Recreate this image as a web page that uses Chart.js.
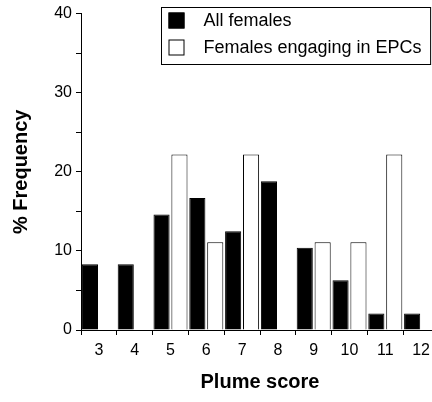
<!DOCTYPE html>
<html>
<head>
<meta charset="utf-8">
<script src="https://cdn.jsdelivr.net/npm/chart.js@4"></script>
<style>
  html, body { margin: 0; padding: 0; background: #fff; overflow: hidden; }
  #wrap { width: 440px; height: 402px; }
</style>
</head>
<body>
<div id="wrap"><canvas id="plumeChart"></canvas></div>
<script>
// Plume score categories and % frequency per group
const plumeScores = ['3', '4', '5', '6', '7', '8', '9', '10', '11', '12'];
const allFemales = [8.3, 8.3, 14.6, 16.7, 12.5, 18.8, 10.4, 6.3, 2.1, 2.1];
const epcFemales = [0, 0, 22.2, 11.1, 22.2, 0, 11.1, 11.1, 22.2, 0];
const yTicks = [0, 10, 20, 30, 40];

const fontFamily = "'Liberation Sans', Arial, Helvetica, sans-serif";

// legend drawn inside the plot, with a box around it
const boxLegend = {
    id: 'boxLegend',
    afterDraw(chart) {
        const ctx = chart.ctx;
        const area = chart.chartArea;
        const x0 = area.left + 80.5;
        const y0 = 7.5;
        const rowH = 27;
        const textX = x0 + 42;
        ctx.save();
        ctx.font = '18px ' + fontFamily;
        let maxW = 0;
        chart.data.datasets.forEach(ds => {
            maxW = Math.max(maxW, ctx.measureText(ds.label).width);
        });
        const w = textX + maxW + 9 - x0;
        const h = 57;
        ctx.strokeStyle = '#000';
        ctx.lineWidth = 1;
        ctx.strokeRect(x0, y0, w, h);
        chart.data.datasets.forEach((ds, i) => {
            const cy = y0 + 13 + i * rowH;
            ctx.fillStyle = ds.backgroundColor;
            ctx.fillRect(x0 + 7, cy - 8, 16, 16);
            ctx.strokeStyle = '#000';
            ctx.strokeRect(x0 + 7.5, cy - 7.5, 15, 15);
            ctx.fillStyle = '#000';
            ctx.textBaseline = 'middle';
            ctx.textAlign = 'left';
            ctx.fillText(ds.label, textX, cy + 1);
        });
        ctx.restore();
    }
};

const ctx = document.getElementById('plumeChart').getContext('2d');

new Chart(ctx, {
    type: 'bar',
    data: {
        labels: plumeScores,
        datasets: [
            {
                label: 'All females',
                data: allFemales,
                backgroundColor: '#000',
                borderColor: '#000',
                borderWidth: 1
            },
            {
                label: 'Females engaging in EPCs',
                data: epcFemales,
                backgroundColor: '#fff',
                borderColor: '#000',
                borderWidth: 1
            }
        ]
    },
    options: {
        responsive: true,
        maintainAspectRatio: false,
        animation: false,
        barPercentage: 0.9,
        categoryPercentage: 1,
        layout: { padding: { top: 13, right: 1, left: 0, bottom: 0 } },
        plugins: {
            legend: { display: false },
            tooltip: { enabled: false }
        },
        scales: {
            x: {
                grid: {
                    offset: true,
                    drawOnChartArea: false,
                    tickLength: 5,
                    color: '#000'
                },
                border: { color: '#000', width: 1 },
                ticks: {
                    color: '#000',
                    padding: 6,
                    maxRotation: 0,
                    font: { family: fontFamily, size: 16 }
                },
                title: {
                    display: true,
                    text: 'Plume score',
                    color: '#000',
                    padding: { top: 0, bottom: 8 },
                    font: { family: fontFamily, size: 20, weight: 'bold', lineHeight: 1.2 }
                },
                afterFit(scale) { scale.height = 72; }
            },
            y: {
                min: 0,
                max: 40,
                grid: {
                    drawOnChartArea: false,
                    tickLength: 5,
                    color: '#000'
                },
                border: { color: '#000', width: 1 },
                ticks: {
                    stepSize: 5,
                    color: '#000',
                    padding: 4,
                    font: { family: fontFamily, size: 16 },
                    callback: v => yTicks.includes(v) ? v : ''
                },
                title: {
                    display: true,
                    text: '% Frequency',
                    color: '#000',
                    padding: { top: 9, bottom: 0 },
                    font: { family: fontFamily, size: 20, weight: 'bold', lineHeight: 1.2 }
                },
                afterFit(scale) { scale.width = 81; }
            }
        }
    },
    plugins: [boxLegend]
});
</script>
</body>
</html>
